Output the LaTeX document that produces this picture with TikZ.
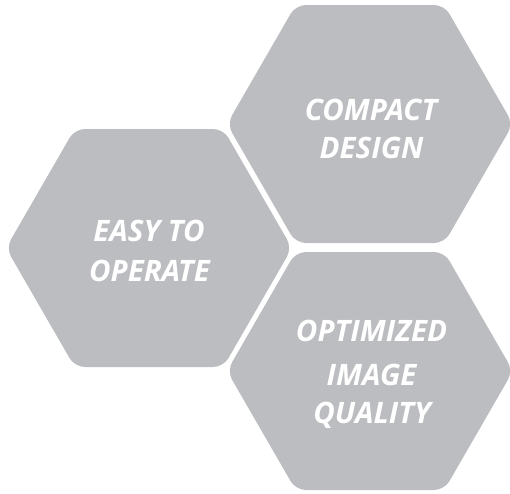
\documentclass[tikz,border=0pt]{standalone}
\usepackage{fontspec}
\newfontfamily\hexfont{Open Sans}
\definecolor{hexgray}{RGB}{188,189,192}
\tikzset{
  hexshape/.style={fill=hexgray, draw=none, rounded corners=10pt},
  hextext/.style={text=white, anchor=base, inner sep=0pt,
    font=\hexfont\bfseries\itshape\fontsize{29.5}{34}\selectfont}
}
\begin{document}
\begin{tikzpicture}[x=1pt, y=-1pt]
  \useasboundingbox (0,0) rectangle (510,493);
  \clip (0,0) rectangle (510,493);
  \newcommand\hexpath[2]{%
    \fill[hexshape] (#1-143,#2) -- (#1-74.3,#2-119) -- (#1+74.3,#2-119)
      -- (#1+143,#2) -- (#1+74.3,#2+119) -- (#1-74.3,#2+119) -- cycle;}
  \hexpath{149}{248}
  \hexpath{370}{124}
  \hexpath{370}{371}
  \node[hextext] (l1) at (149,241.7) {EASY TO};
  \node[hextext] (l2) at (149.5,281.7) {OPERATE};
  \node[hextext] (t1) at (371,120) {COMPACT};
  \node[hextext] (t2) at (371.5,158.3) {DESIGN};
  \node[hextext] (b1) at (371.5,341.7) {OPTIMIZED};
  \node[hextext] (b2) at (371.5,385) {IMAGE};
  \node[hextext] (b3) at (372,423) {QUALITY};
\end{tikzpicture}
\end{document}
